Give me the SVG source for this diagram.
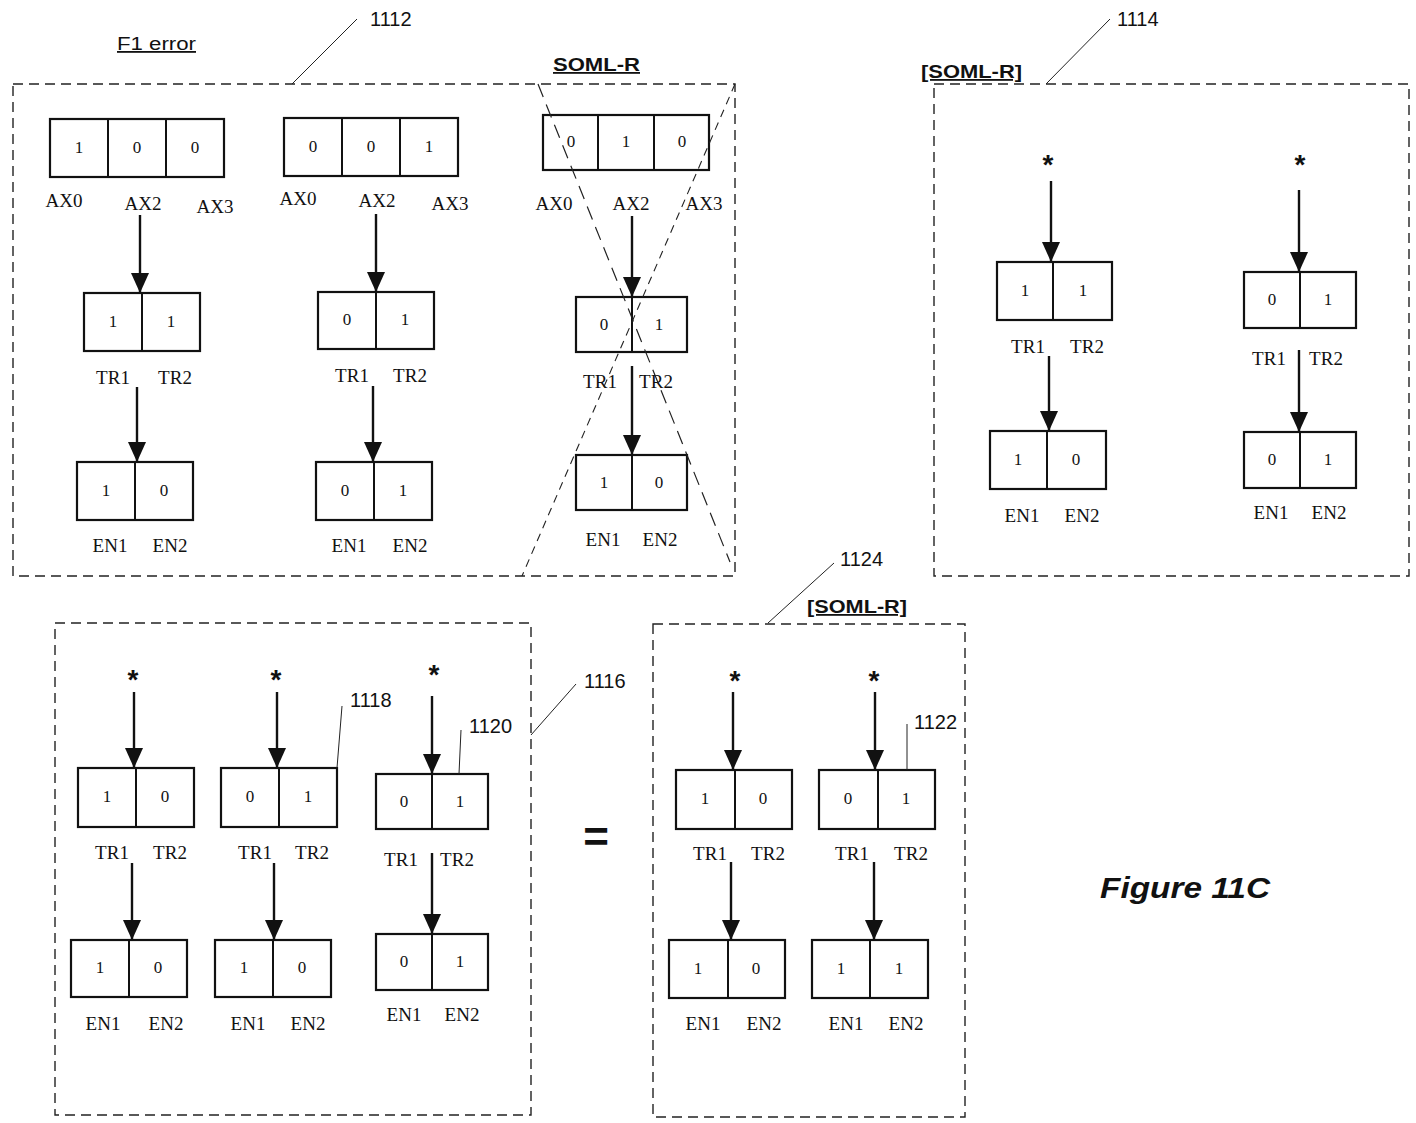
<svg xmlns="http://www.w3.org/2000/svg" width="1416" height="1123" viewBox="0 0 1416 1123">
<style>
.bg{fill:#fff}
.panel{fill:none;stroke:#222;stroke-width:1.4;stroke-dasharray:10 6}
.cell{fill:#fff;stroke:#111;stroke-width:2.2}
.div{stroke:#111;stroke-width:2}
.v{font-family:"Liberation Serif",serif;font-size:17px;fill:#111;text-anchor:middle}
.lb{font-family:"Liberation Serif",serif;font-size:19px;fill:#111;text-anchor:middle}
.num{font-family:"Liberation Sans",Arial,sans-serif;font-size:20px;fill:#111}
.ttl{font-family:"Liberation Sans",Arial,sans-serif;font-size:18px;fill:#111;text-decoration:underline}
.b{font-weight:bold}
.star{font-family:"Liberation Sans",Arial,sans-serif;font-size:28px;font-weight:bold;fill:#111;text-anchor:middle}
.arr{stroke:#111;stroke-width:2.4;fill:none;marker-end:url(#ah)}
.lead{stroke:#222;stroke-width:1;fill:none}
.cross1{stroke:#222;stroke-width:1.2;fill:none;stroke-dasharray:14 8}
.cross2{stroke:#222;stroke-width:1.1;fill:none;stroke-dasharray:8 6}
</style>
<defs>
<marker id="ah" markerUnits="userSpaceOnUse" markerWidth="20" markerHeight="18" viewBox="0 0 20 18" refX="19" refY="9" orient="auto"><path d="M0,0 L20,9 L0,18 z" fill="#111"/></marker>
</defs>
<rect class="bg" x="0" y="0" width="1416" height="1123"/>

<g id="panel-1112">
<rect class="panel" x="13" y="84" width="722" height="492"/>
<text class="ttl" x="117" y="50" textLength="79" lengthAdjust="spacingAndGlyphs">F1 error</text>
<text class="ttl b" x="553" y="71" textLength="87" lengthAdjust="spacingAndGlyphs">SOML-R</text>
<text class="num" x="370" y="26">1112</text>
<path class="lead" d="M292,84 L357,19"/>
</g>

<g id="p1-group1">
<rect class="cell" x="50" y="119" width="174" height="58"/>
<line class="div" x1="108" y1="119" x2="108" y2="177"/><line class="div" x1="166" y1="119" x2="166" y2="177"/>
<text class="v" x="79" y="153">1</text><text class="v" x="137" y="153">0</text><text class="v" x="195" y="153">0</text>
<text class="lb" x="64" y="207">AX0</text><text class="lb" x="143" y="210">AX2</text><text class="lb" x="215" y="213">AX3</text>
<rect class="cell" x="84" y="293" width="116" height="58"/><line class="div" x1="142" y1="293" x2="142" y2="351"/>
<text class="v" x="113" y="327">1</text><text class="v" x="171" y="327">1</text>
<text class="lb" x="113" y="384">TR1</text><text class="lb" x="175" y="384">TR2</text>
<rect class="cell" x="77" y="462" width="116" height="58"/><line class="div" x1="135" y1="462" x2="135" y2="520"/>
<text class="v" x="106" y="496">1</text><text class="v" x="164" y="496">0</text>
<text class="lb" x="110" y="552">EN1</text><text class="lb" x="170" y="552">EN2</text>
</g>

<g id="p1-group2">
<rect class="cell" x="284" y="118" width="174" height="58"/>
<line class="div" x1="342" y1="118" x2="342" y2="176"/><line class="div" x1="400" y1="118" x2="400" y2="176"/>
<text class="v" x="313" y="152">0</text><text class="v" x="371" y="152">0</text><text class="v" x="429" y="152">1</text>
<text class="lb" x="298" y="205">AX0</text><text class="lb" x="377" y="207">AX2</text><text class="lb" x="450" y="210">AX3</text>
<rect class="cell" x="318" y="292" width="116" height="57"/><line class="div" x1="376" y1="292" x2="376" y2="349"/>
<text class="v" x="347" y="325">0</text><text class="v" x="405" y="325">1</text>
<text class="lb" x="352" y="382">TR1</text><text class="lb" x="410" y="382">TR2</text>
<rect class="cell" x="316" y="462" width="116" height="58"/><line class="div" x1="374" y1="462" x2="374" y2="520"/>
<text class="v" x="345" y="496">0</text><text class="v" x="403" y="496">1</text>
<text class="lb" x="349" y="552">EN1</text><text class="lb" x="410" y="552">EN2</text>
</g>

<g id="p1-group3">
<rect class="cell" x="543" y="115" width="166" height="55"/>
<line class="div" x1="598" y1="115" x2="598" y2="170"/><line class="div" x1="654" y1="115" x2="654" y2="170"/>
<text class="v" x="571" y="147">0</text><text class="v" x="626" y="147">1</text><text class="v" x="682" y="147">0</text>
<text class="lb" x="554" y="210">AX0</text><text class="lb" x="631" y="210">AX2</text><text class="lb" x="704" y="210">AX3</text>
<rect class="cell" x="576" y="297" width="111" height="55"/><line class="div" x1="632" y1="297" x2="632" y2="352"/>
<text class="v" x="604" y="330">0</text><text class="v" x="659" y="330">1</text>
<text class="lb" x="600" y="388">TR1</text><text class="lb" x="656" y="388">TR2</text>
<rect class="cell" x="576" y="455" width="111" height="55"/><line class="div" x1="632" y1="455" x2="632" y2="510"/>
<text class="v" x="604" y="488">1</text><text class="v" x="659" y="488">0</text>
<text class="lb" x="603" y="546">EN1</text><text class="lb" x="660" y="546">EN2</text>
<path class="cross1" d="M538,84 L730,562"/>
<path class="cross2" d="M735,84 L522,576"/>
</g>

<g id="panel-1114">
<rect class="panel" x="934" y="84" width="475" height="492"/>
<text class="ttl b" x="921" y="78" textLength="101" lengthAdjust="spacingAndGlyphs">[SOML-R]</text>
<text class="num" x="1117" y="26">1114</text>
<path class="lead" d="M1046,84 L1110,19"/>
</g>

<g id="p2-group1">
<text class="star" x="1048" y="174">*</text>
<rect class="cell" x="997" y="262" width="115" height="58"/><line class="div" x1="1053" y1="262" x2="1053" y2="320"/>
<text class="v" x="1025" y="296">1</text><text class="v" x="1083" y="296">1</text>
<text class="lb" x="1028" y="353">TR1</text><text class="lb" x="1087" y="353">TR2</text>
<rect class="cell" x="990" y="431" width="116" height="58"/><line class="div" x1="1047" y1="431" x2="1047" y2="489"/>
<text class="v" x="1018" y="465">1</text><text class="v" x="1076" y="465">0</text>
<text class="lb" x="1022" y="522">EN1</text><text class="lb" x="1082" y="522">EN2</text>
</g>

<g id="p2-group2">
<text class="star" x="1300" y="174">*</text>
<rect class="cell" x="1244" y="272" width="112" height="56"/><line class="div" x1="1300" y1="272" x2="1300" y2="328"/>
<text class="v" x="1272" y="305">0</text><text class="v" x="1328" y="305">1</text>
<text class="lb" x="1269" y="365">TR1</text><text class="lb" x="1326" y="365">TR2</text>
<rect class="cell" x="1244" y="432" width="112" height="56"/><line class="div" x1="1300" y1="432" x2="1300" y2="488"/>
<text class="v" x="1272" y="465">0</text><text class="v" x="1328" y="465">1</text>
<text class="lb" x="1271" y="519">EN1</text><text class="lb" x="1329" y="519">EN2</text>
</g>

<g id="panel-1116">
<rect class="panel" x="55" y="623" width="476" height="492"/>
<text class="num" x="584" y="688">1116</text>
<path class="lead" d="M531,735 L576,684"/>
</g>

<g id="p3-group1">
<text class="star" x="133" y="689">*</text>
<rect class="cell" x="78" y="768" width="116" height="59"/><line class="div" x1="136" y1="768" x2="136" y2="827"/>
<text class="v" x="107" y="802">1</text><text class="v" x="165" y="802">0</text>
<text class="lb" x="112" y="859">TR1</text><text class="lb" x="170" y="859">TR2</text>
<rect class="cell" x="71" y="940" width="116" height="57"/><line class="div" x1="129" y1="940" x2="129" y2="997"/>
<text class="v" x="100" y="973">1</text><text class="v" x="158" y="973">0</text>
<text class="lb" x="103" y="1030">EN1</text><text class="lb" x="166" y="1030">EN2</text>
</g>

<g id="p3-group2">
<text class="star" x="276" y="689">*</text>
<rect class="cell" x="221" y="768" width="116" height="59"/><line class="div" x1="279" y1="768" x2="279" y2="827"/>
<text class="v" x="250" y="802">0</text><text class="v" x="308" y="802">1</text>
<text class="lb" x="255" y="859">TR1</text><text class="lb" x="312" y="859">TR2</text>
<rect class="cell" x="215" y="940" width="116" height="57"/><line class="div" x1="273" y1="940" x2="273" y2="997"/>
<text class="v" x="244" y="973">1</text><text class="v" x="302" y="973">0</text>
<text class="lb" x="248" y="1030">EN1</text><text class="lb" x="308" y="1030">EN2</text>
<text class="num" x="350" y="707">1118</text>
<path class="lead" d="M337,768 L342,706"/>
</g>

<g id="p3-group3">
<text class="star" x="434" y="684">*</text>
<rect class="cell" x="376" y="774" width="112" height="55"/><line class="div" x1="432" y1="774" x2="432" y2="829"/>
<text class="v" x="404" y="807">0</text><text class="v" x="460" y="807">1</text>
<text class="lb" x="401" y="866">TR1</text><text class="lb" x="457" y="866">TR2</text>
<rect class="cell" x="376" y="934" width="112" height="56"/><line class="div" x1="432" y1="934" x2="432" y2="990"/>
<text class="v" x="404" y="967">0</text><text class="v" x="460" y="967">1</text>
<text class="lb" x="404" y="1021">EN1</text><text class="lb" x="462" y="1021">EN2</text>
<text class="num" x="469" y="733">1120</text>
<path class="lead" d="M459,774 L461,730"/>
</g>

<g id="equals">
<text x="596" y="852" font-family="Liberation Sans, Arial, sans-serif" font-size="44" font-weight="bold" fill="#111" text-anchor="middle">=</text>
</g>

<g id="panel-1124">
<rect class="panel" x="653" y="624" width="312" height="493"/>
<text class="ttl b" x="807" y="613" textLength="100" lengthAdjust="spacingAndGlyphs">[SOML-R]</text>
<text class="num" x="840" y="566">1124</text>
<path class="lead" d="M768,623 L834,563"/>
</g>

<g id="p4-group1">
<text class="star" x="735" y="690">*</text>
<rect class="cell" x="676" y="770" width="116" height="59"/><line class="div" x1="735" y1="770" x2="735" y2="829"/>
<text class="v" x="705" y="804">1</text><text class="v" x="763" y="804">0</text>
<text class="lb" x="710" y="860">TR1</text><text class="lb" x="768" y="860">TR2</text>
<rect class="cell" x="669" y="940" width="116" height="58"/><line class="div" x1="728" y1="940" x2="728" y2="998"/>
<text class="v" x="698" y="974">1</text><text class="v" x="756" y="974">0</text>
<text class="lb" x="703" y="1030">EN1</text><text class="lb" x="764" y="1030">EN2</text>
</g>

<g id="p4-group2">
<text class="star" x="874" y="690">*</text>
<rect class="cell" x="819" y="770" width="116" height="59"/><line class="div" x1="878" y1="770" x2="878" y2="829"/>
<text class="v" x="848" y="804">0</text><text class="v" x="906" y="804">1</text>
<text class="lb" x="852" y="860">TR1</text><text class="lb" x="911" y="860">TR2</text>
<rect class="cell" x="812" y="940" width="116" height="58"/><line class="div" x1="870" y1="940" x2="870" y2="998"/>
<text class="v" x="841" y="974">1</text><text class="v" x="899" y="974">1</text>
<text class="lb" x="846" y="1030">EN1</text><text class="lb" x="906" y="1030">EN2</text>
<text class="num" x="914" y="729">1122</text>
<path class="lead" d="M907,724 L907,770"/>
</g>

<g id="caption">
<text x="1100" y="898" font-family="Liberation Sans, Arial, sans-serif" font-size="29" font-weight="bold" font-style="italic" fill="#111" textLength="170" lengthAdjust="spacingAndGlyphs">Figure 11C</text>
</g>

<g id="connectors">
<line class="arr" x1="140" y1="215" x2="140" y2="292"/>
<line class="arr" x1="137" y1="387" x2="137" y2="461"/>
<line class="arr" x1="376" y1="214" x2="376" y2="291"/>
<line class="arr" x1="373" y1="386" x2="373" y2="461"/>
<line class="arr" x1="632" y1="216" x2="632" y2="296"/>
<line class="arr" x1="632" y1="366" x2="632" y2="454"/>
<line class="arr" x1="1051" y1="181" x2="1051" y2="261"/>
<line class="arr" x1="1049" y1="356" x2="1049" y2="430"/>
<line class="arr" x1="1299" y1="190" x2="1299" y2="271"/>
<line class="arr" x1="1299" y1="350" x2="1299" y2="431"/>
<line class="arr" x1="134" y1="692" x2="134" y2="767"/>
<line class="arr" x1="132" y1="863" x2="132" y2="939"/>
<line class="arr" x1="277" y1="692" x2="277" y2="767"/>
<line class="arr" x1="274" y1="863" x2="274" y2="939"/>
<line class="arr" x1="432" y1="696" x2="432" y2="773"/>
<line class="arr" x1="432" y1="853" x2="432" y2="933"/>
<line class="arr" x1="733" y1="692" x2="733" y2="769"/>
<line class="arr" x1="731" y1="862" x2="731" y2="939"/>
<line class="arr" x1="875" y1="692" x2="875" y2="769"/>
<line class="arr" x1="874" y1="862" x2="874" y2="939"/>
</g>
</svg>
